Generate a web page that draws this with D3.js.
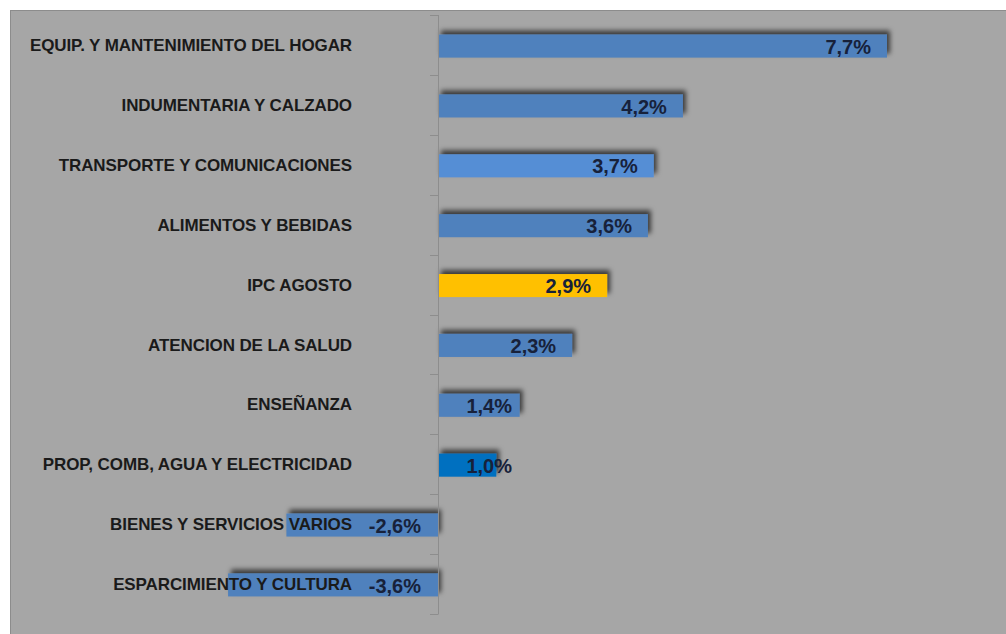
<!DOCTYPE html>
<html><head><meta charset="utf-8">
<script src="https://cdn.jsdelivr.net/npm/d3@7"></script>
<style>html,body{margin:0;padding:0;background:#fff;}svg{display:block;}</style>
</head><body>
<script>
const categories = [
  "EQUIP. Y MANTENIMIENTO DEL HOGAR",
  "INDUMENTARIA Y CALZADO",
  "TRANSPORTE Y COMUNICACIONES",
  "ALIMENTOS Y BEBIDAS",
  "IPC AGOSTO",
  "ATENCION DE LA SALUD",
  "ENSEÑANZA",
  "PROP, COMB, AGUA Y ELECTRICIDAD",
  "BIENES Y SERVICIOS VARIOS",
  "ESPARCIMIENTO Y CULTURA"
];
const values = [7.7, 4.2, 3.7, 3.6, 2.9, 2.3, 1.4, 1.0, -2.6, -3.6];
const valueLabels = ["7,7%", "4,2%", "3,7%", "3,6%", "2,9%", "2,3%", "1,4%", "1,0%", "-2,6%", "-3,6%"];

// styles (separate from data)
const defaultColor = "#4f81bd";
const colorByCategory = {
  "TRANSPORTE Y COMUNICACIONES": "#558ed5",
  "IPC AGOSTO": "#ffc000",
  "PROP, COMB, AGUA Y ELECTRICIDAD": "#0070c0"
};

const W = 1006, H = 634;
const svg = d3.select("body").append("svg").attr("width", W).attr("height", H);

const defs = svg.append("defs");
const f = defs.append("filter").attr("id", "sh").attr("x", "-10%").attr("y", "-80%").attr("width", "130%").attr("height", "260%");
f.append("feDropShadow").attr("dx", 3).attr("dy", -4).attr("stdDeviation", 2.8)
  .attr("flood-color", "#000").attr("flood-opacity", 0.65);

// plot background
svg.append("rect").attr("x", 10.5).attr("y", 10.5).attr("width", W).attr("height", H)
  .attr("fill", "#a6a6a6").attr("stroke", "#8c8c8c").attr("stroke-width", 1);

const x = d3.scaleLinear().domain([0, 7.7]).range([438, 887]);
const y = d3.scaleBand().domain(categories).range([15, 614]).paddingInner(0.615).paddingOuter(0.31);
const band = d3.scaleBand().domain(categories).range([15, 614]);

// bars
svg.append("g").selectAll("rect").data(categories).join("rect")
  .attr("x", (c, i) => Math.min(x(0), x(values[i])))
  .attr("y", c => y(c) + 1)
  .attr("width", (c, i) => Math.abs(x(values[i]) - x(0)))
  .attr("height", y.bandwidth())
  .attr("fill", c => colorByCategory[c] || defaultColor)
  .attr("filter", "url(#sh)");

// axis line with ticks at category boundaries
const ax = svg.append("g");
ax.append("line").attr("x1", x(0) + 0.5).attr("x2", x(0) + 0.5).attr("y1", 15).attr("y2", 614)
  .attr("stroke", "#8d8d8d").attr("stroke-width", 1);
const bounds = categories.map(c => band(c)).concat([band.range()[1]]);
ax.selectAll("line.t").data(bounds).join("line").attr("class", "t")
  .attr("x1", x(0) - 8).attr("x2", x(0) + 0.5)
  .attr("y1", d => Math.round(d) + 0.5).attr("y2", d => Math.round(d) + 0.5)
  .attr("stroke", "#8d8d8d").attr("stroke-width", 1);

// category labels
svg.append("g").selectAll("text").data(categories).join("text")
  .attr("x", 352).attr("y", c => band(c) + band.bandwidth() / 2)
  .attr("dy", "0.36em").attr("text-anchor", "end")
  .attr("font-family", "'Liberation Sans', Arial, sans-serif")
  .attr("font-weight", "bold").attr("font-size", 17).attr("letter-spacing", -0.1)
  .attr("fill", "#1a1a1a").text(c => c);

// value labels
svg.append("g").selectAll("text").data(categories).join("text")
  .attr("x", (c, i) => values[i] >= 0 ? Math.max(x(values[i]) - 16, x(0) + 74) : x(0) - 17)
  .attr("y", c => y(c) + 1 + y.bandwidth() / 2)
  .attr("dy", "0.38em").attr("text-anchor", "end")
  .attr("font-family", "'Liberation Sans', Arial, sans-serif")
  .attr("font-weight", "bold").attr("font-size", 20)
  .attr("fill", "#17213a").text((c, i) => valueLabels[i]);
</script>
</body></html>
